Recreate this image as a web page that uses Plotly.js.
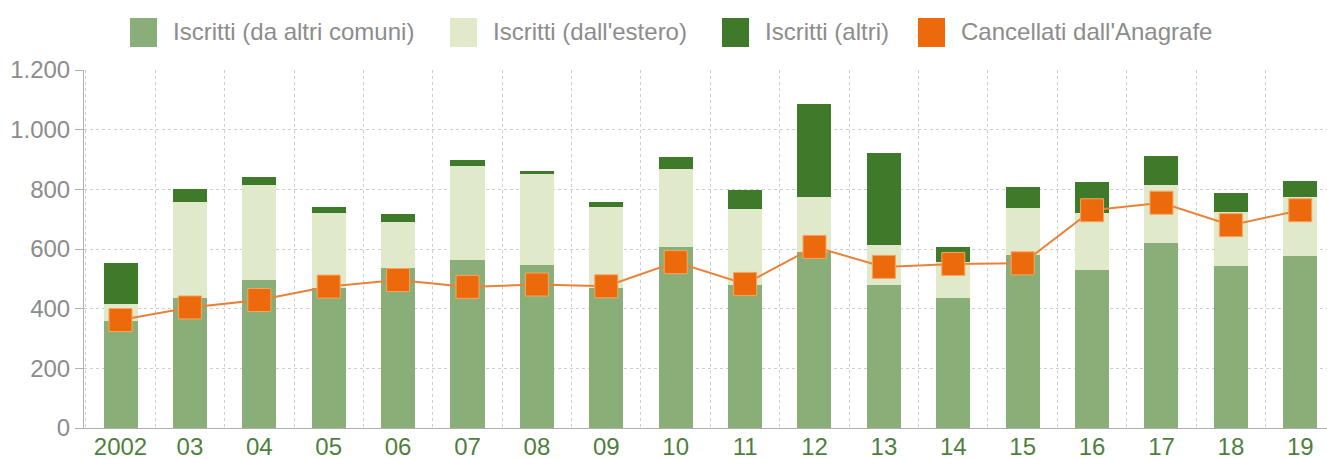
<!DOCTYPE html>
<html>
<head>
<meta charset="utf-8">
<script src="https://cdn.plot.ly/plotly-3.0.1.min.js"></script>
<style>
  html, body { margin: 0; padding: 0; background: #fff; }
  #chart { width: 1327px; height: 459px; }
</style>
</head>
<body>
<div id="chart"></div>
<script>
const years = ["2002","03","04","05","06","07","08","09","10","11","12","13","14","15","16","17","18","19"];
const iscrittiComuni = [360, 435, 495, 470, 535, 563, 546, 470, 607, 480, 590, 479, 436, 580, 530, 620, 543, 577];
const iscrittiEstero = [55, 323, 320, 250, 155, 315, 305, 271, 261, 254, 185, 134, 121, 157, 190, 195, 181, 198];
const iscrittiAltri  = [138, 42, 26, 21, 27, 20, 12, 18, 40, 64, 311, 309, 49, 70, 105, 97, 63, 53];
const cancellati     = [362, 404, 429, 474, 496, 473, 481, 475, 556, 483, 607, 540, 550, 552, 730, 755, 680, 730];

const seriesNames = ["Iscritti (da altri comuni)", "Iscritti (dall'estero)", "Iscritti (altri)", "Cancellati dall'Anagrafe"];
const colors = ["#8aae78", "#e0e9c9", "#3f7a2b", "#ec6a0c"];

const traces = [
  {type: "bar", name: seriesNames[0], x: years, y: iscrittiComuni, marker: {color: colors[0]}, showlegend: false, hoverinfo: "y+name"},
  {type: "bar", name: seriesNames[1], x: years, y: iscrittiEstero, marker: {color: colors[1]}, showlegend: false, hoverinfo: "y+name"},
  {type: "bar", name: seriesNames[2], x: years, y: iscrittiAltri, marker: {color: colors[2]}, showlegend: false, hoverinfo: "y+name"},
  {type: "scatter", mode: "lines+markers", name: seriesNames[3], x: years, y: cancellati,
   line: {color: "#e8823a", width: 2},
   marker: {symbol: "square", size: 23, color: colors[3], line: {color: "#f7a45e", width: 1}},
   showlegend: false, hoverinfo: "y+name"}
];

// Legend drawn as swatches + text (paper coordinates)
const legendX = [130, 450, 722, 918];
const W = 1327, H = 459;
const shapes = [];
const annotations = [];
seriesNames.forEach((n, i) => {
  shapes.push({type: "rect", xref: "paper", yref: "paper",
    x0: (legendX[i] - 84) / (W - 84), x1: (legendX[i] + 27 - 84) / (W - 84),
    y0: (428 - 47) / (428 - 70), y1: (428 - 18) / (428 - 70),
    fillcolor: colors[i], line: {width: 0}});
  annotations.push({xref: "paper", yref: "paper", x: (legendX[i] + 41 - 84) / (W - 84), y: (428 - 32) / (428 - 70),
    xanchor: "left", yanchor: "middle", showarrow: false, text: n,
    font: {family: "Liberation Sans, Arial, sans-serif", size: 24, color: "#8c8c8c"}});
});

const layout = {
  width: 1327, height: 459,
  margin: {l: 84, r: 0, t: 70, b: 31},
  paper_bgcolor: "#ffffff", plot_bgcolor: "#ffffff",
  barmode: "stack",
  bargap: 0.51,
  separators: ",.",
  showlegend: false,
  font: {family: "Liberation Sans, Arial, sans-serif"},
  xaxis: {
    type: "category",
    range: [-0.526, 17.385],
    tickson: "boundaries",
    ticks: "",
    ticklabelstandoff: -3,
    showgrid: true, gridcolor: "#cfcfcf", griddash: "dot", gridwidth: 1,
    showline: true, linecolor: "#b0b0b0", linewidth: 1,
    tickfont: {size: 24, color: "#4f7f3f"},
    automargin: false,
    zeroline: false
  },
  yaxis: {
    range: [0, 1200],
    tickvals: [0, 200, 400, 600, 800, 1000, 1200],
    tickformat: ",d",
    ticks: "outside", ticklen: 8, tickcolor: "#b0b0b0",
    showgrid: true, gridcolor: "#cfcfcf", griddash: "dot", gridwidth: 1,
    showline: true, linecolor: "#b0b0b0", linewidth: 1,
    tickfont: {size: 24, color: "#8c8c8c"},
    zeroline: false,
    automargin: false
  },
  shapes: shapes,
  annotations: annotations
};

Plotly.newPlot("chart", traces, layout, {displayModeBar: false, staticPlot: true});
</script>
</body>
</html>
